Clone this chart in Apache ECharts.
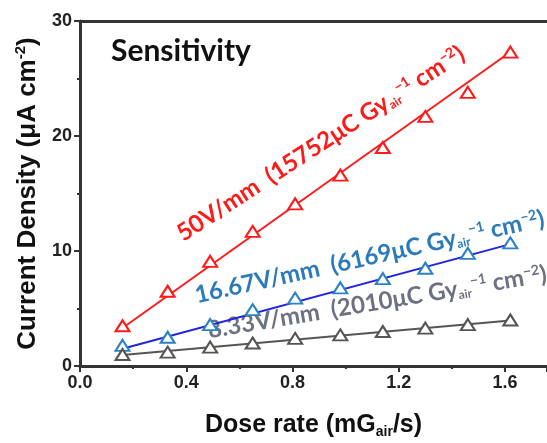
<!DOCTYPE html>
<html>
<head>
<meta charset="utf-8">
<script src="https://cdn.jsdelivr.net/npm/echarts@6/dist/echarts.min.js"></script>
<style>
  html, body { margin: 0; padding: 0; background: #fff; }
  #chart { width: 547px; height: 443px; }
</style>
</head>
<body>
<div id="chart"></div>
<script>
// dose rate (mGair/s)
const doseRate = [0.16, 0.33, 0.49, 0.65, 0.81, 0.98, 1.14, 1.30, 1.46, 1.62];
// current density (uA cm^-2)
const v50 = [3.5, 6.5, 9.1, 11.7, 14.1, 16.6, 19.0, 21.7, 23.8, 27.3];
const v16 = [1.8, 2.5, 3.6, 4.9, 5.9, 6.8, 7.6, 8.5, 9.8, 10.7];
const v8 = [1.0, 1.2, 1.65, 2.0, 2.4, 2.7, 3.0, 3.3, 3.6, 4.0];
// linear fit end points [x, y]
const fit50 = [[0.16, 3.3], [1.62, 27.3]];
const fit16 = [[0.16, 1.5], [1.62, 10.6]];
const fit8 = [[0.16, 0.95], [1.62, 3.95]];
const xTicks = [0, 0.4, 0.8, 1.2, 1.6];
const yTicks = [0, 10, 20, 30];

const pairs = (xs, ys) => xs.map((x, i) => [x, ys[i]]);

const chart = echarts.init(document.getElementById('chart'));

const axisFont = { fontFamily: 'Liberation Sans', fontWeight: 'bold', color: '#222' };

const markerSeries = (name, data, color) => ({
    name: name,
    type: 'line',
    data: pairs(doseRate, data),
    lineStyle: { width: 0, opacity: 0 },
    symbol: 'triangle',
    symbolSize: [14, 11],
    itemStyle: { color: '#fff', borderColor: color, borderWidth: 2 },
    z: 3
});

const fitSeries = (data, color) => ({
    type: 'line',
    data: data,
    symbol: 'none',
    lineStyle: { color: color, width: 2 },
    z: 2
});

const ann = (x, y, deg, color, head, num) => ({
    type: 'text',
    x: x,
    y: y,
    rotation: deg * Math.PI / 180,
    style: {
        text: head + '  (' + num + 'μC Gy{sub|air}{sup|−1} cm{sup|−2})',
        fill: color,
        font: 'bold 24px Lato',
        textAlign: 'left',
        textVerticalAlign: 'bottom',
        rich: {
            sub: { fontSize: 12, fontWeight: 'bold', fontFamily: 'Lato', fill: color, verticalAlign: 'bottom', padding: [9, 0, 0, 0] },
            sup: { fontSize: 14, fontWeight: 'bold', fontFamily: 'Lato', fill: color, verticalAlign: 'top', padding: [0, 0, 11, 0] }
        }
    }
});

const option = {
    animation: false,
    grid: { left: 80, top: 21, right: 0, bottom: 77, outerBoundsMode: 'none' },
    xAxis: [
        {
            type: 'value',
            min: 0,
            max: 1.758,
            interval: 0.4,
            name: 'Dose rate (mG{sub|air}/s)',
            nameLocation: 'middle',
            nameGap: 45,
            nameTextStyle: {
                fontFamily: 'Liberation Sans', fontWeight: 'bold', fontSize: 25, color: '#111',
                rich: { sub: { fontSize: 14, fontWeight: 'bold', fontFamily: 'Liberation Sans', color: '#111', padding: [14, 0, 0, 0] } }
            },
            splitLine: { show: false },
            axisLine: { lineStyle: { color: '#333', width: 3 } },
            axisTick: { inside: false, length: 6, lineStyle: { width: 2, color: '#333' } },
            minorTick: { show: true, splitNumber: 2, length: 3, lineStyle: { width: 2, color: '#333' } },
            axisLabel: Object.assign({
                fontSize: 18, margin: 8, showMaxLabel: false,
                formatter: v => xTicks.indexOf(+v.toFixed(2)) >= 0 ? v.toFixed(1) : ''
            }, axisFont)
        },
        {
            type: 'value',
            position: 'top',
            min: 0,
            max: 1.758,
            axisLine: { lineStyle: { color: '#333', width: 3 } },
            axisTick: { show: false },
            axisLabel: { show: false },
            splitLine: { show: false }
        }
    ],
    yAxis: {
        type: 'value',
        min: 0,
        max: 30,
        interval: 10,
        name: 'Current Density (μA cm{sup|-2})',
        nameLocation: 'middle',
        nameGap: 36,
        nameRotate: 90,
        nameTextStyle: {
            fontFamily: 'Liberation Sans', fontWeight: 'bold', fontSize: 26, color: '#111',
            rich: { sup: { fontSize: 15, fontWeight: 'bold', fontFamily: 'Liberation Sans', color: '#111', padding: [0, 0, 14, 0] } }
        },
        splitLine: { show: false },
        axisLine: { show: true, lineStyle: { color: '#333', width: 3 } },
        axisTick: { inside: false, length: 6, lineStyle: { width: 2, color: '#333' } },
        minorTick: { show: true, splitNumber: 2, length: 3, lineStyle: { width: 2, color: '#333' } },
        axisLabel: Object.assign({ fontSize: 18, margin: 8, formatter: v => yTicks.indexOf(v) >= 0 ? String(v) : '' }, axisFont)
    },
    series: [
        fitSeries(fit50, '#ff1a1a'),
        fitSeries(fit16, '#2424e0'),
        fitSeries(fit8, '#555555'),
        markerSeries('50V/mm', v50, '#ff1a1a'),
        markerSeries('16.67V/mm', v16, '#2b82c4'),
        markerSeries('8.33V/mm', v8, '#555555')
    ],
    graphic: [
        {
            type: 'text',
            left: 111,
            top: 36,
            style: { text: 'Sensitivity', fill: '#111', font: 'bold 30px Lato' }
        },
        ann(186, 246, 33, '#ff1a1a', '50V/mm', '15752'),
        ann(198, 308, 12.5, '#2b7bbb', '16.67V/mm', '6169'),
        ann(210, 343, 9.5, '#6c7282', '8.33V/mm', '2010')
    ]
};

chart.setOption(option);
</script>
</body>
</html>
